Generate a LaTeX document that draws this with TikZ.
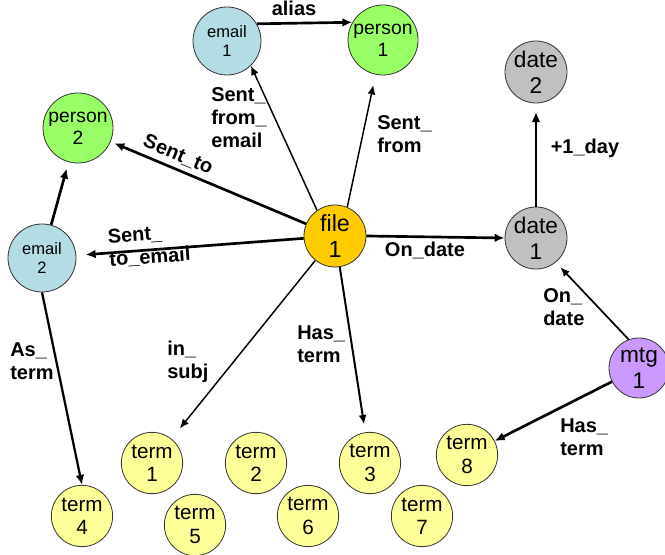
\documentclass[tikz,border=0pt]{standalone}
\usepackage{fontspec}
\setmainfont{Liberation Sans}
\usetikzlibrary{arrows.meta}

\definecolor{emailblue}{RGB}{180,220,228}
\definecolor{persongreen}{RGB}{153,255,102}
\definecolor{fileorange}{RGB}{255,204,0}
\definecolor{dategray}{RGB}{192,192,192}
\definecolor{mtgpurple}{RGB}{204,153,255}
\definecolor{termyellow}{RGB}{255,255,153}

\begin{document}
\begin{tikzpicture}[x=0.75pt,y=-0.75pt,
            every node/.style={inner sep=0pt},
            entity/.style={circle,draw=black!80,line width=0.6pt,align=center},
            emailnode/.style={entity,fill=emailblue,minimum size=51pt,font=\fontsize{12.4}{14.5}\selectfont},
            personnode/.style={entity,fill=persongreen,minimum size=52.5pt,font=\fontsize{14.5}{16.5}\selectfont},
            filenode/.style={entity,fill=fileorange,minimum size=46.5pt,font=\fontsize{17.5}{20}\selectfont},
            datenode/.style={entity,fill=dategray,minimum size=46.5pt,font=\fontsize{17}{19.5}\selectfont},
            mtgnode/.style={entity,fill=mtgpurple,minimum size=45pt,font=\fontsize{17}{19.5}\selectfont},
            termnode/.style={entity,fill=termyellow,minimum size=46pt,font=\fontsize{15.5}{17.5}\selectfont},
            rel/.style={font=\bfseries\fontsize{15}{17.25}\selectfont,align=left},
            thinlink/.style={-{Latex[length=7pt,width=6pt]},line width=1.1pt},
            thicklink/.style={-{Latex[length=7.5pt,width=6.5pt]},line width=2pt}]
            \useasboundingbox (0,0) rectangle (665,555);
            \node[emailnode] (email1) at (227,41) {email\\1};
            \node[personnode] (person1) at (383,40) {person\\1};
            \node[personnode] (person2) at (78,128) {person\\2};
            \node[emailnode] (email2) at (42,258) {email\\2};
            \node[filenode] (file1) at (335,236) {file\\1};
            \node[datenode] (date2) at (536,72) {date\\2};
            \node[datenode] (date1) at (536,238) {date\\1};
            \node[mtgnode] (mtg1) at (639,368) {mtg\\1};
            \foreach \n/\x/\y in {1/152/463, 2/256/463, 3/370/463, 4/82/516,
                                  5/195/525, 6/308/516, 7/422/516, 8/467/455}
                \node[termnode] (term\n) at (\x,\y) {term\\\n};
            \draw[thicklink] (email1.30) -- (person1.150);
            \draw[thinlink] (file1.125) -- (email1.-46);
            \draw[thinlink,shorten >=8pt] (file1.67) -- (person1);
            \draw[thicklink,shorten >=3pt] (file1) -- (person2);
            \draw[thicklink,shorten >=7pt] (file1) -- (email2);
            \draw[thicklink,shorten >=5pt] (email2) -- (person2);
            \draw[thicklink,line width=1.7pt] (email2.south) -- (term4.north);
            \draw[thinlink,shorten >=10pt] (file1) -- (term1);
            \draw[thinlink,line width=1.5pt,shorten >=6pt] (file1) -- (term3);
            \draw[thicklink] (file1.east) -- (date1.west);
            \draw[thicklink,shorten >=6.5pt] (date1) -- (date2);
            \draw[thinlink,line width=1.3pt,shorten >=5pt] (mtg1.110) -- (date1.-51);
            \draw[thicklink] (mtg1) -- (term8);
            \node[rel] (lab-alias) at (294,8) {alias};
            \node[rel,anchor=north west] (lab-sfe) at (211,87) {Sent\_\\from\_\\email};
            \node[rel,anchor=north west] (lab-sf) at (377,115) {Sent\_\\from};
            \node[rel,rotate=-23] (lab-st) at (178,155) {Sent\_to};
            \node[rel,anchor=north west,rotate=4] (lab-ste) at (107,229) {Sent\_\\to\_email};
            \node[rel] (lab-od) at (425,250) {On\_date};
            \node[rel] (lab-day) at (585,148) {+1\_day};
            \node[rel,anchor=north west] (lab-mod) at (543,288) {On\_\\date};
            \node[rel,anchor=north west] (lab-mht) at (560,418) {Has\_\\term};
            \node[rel,anchor=north west] (lab-fht) at (297,325) {Has\_\\term};
            \node[rel,anchor=north west] (lab-subj) at (167,341) {in\_\\subj};
            \node[rel,anchor=north west] (lab-as) at (10,342) {As\_\\term};
        \end{tikzpicture}
\end{document}
